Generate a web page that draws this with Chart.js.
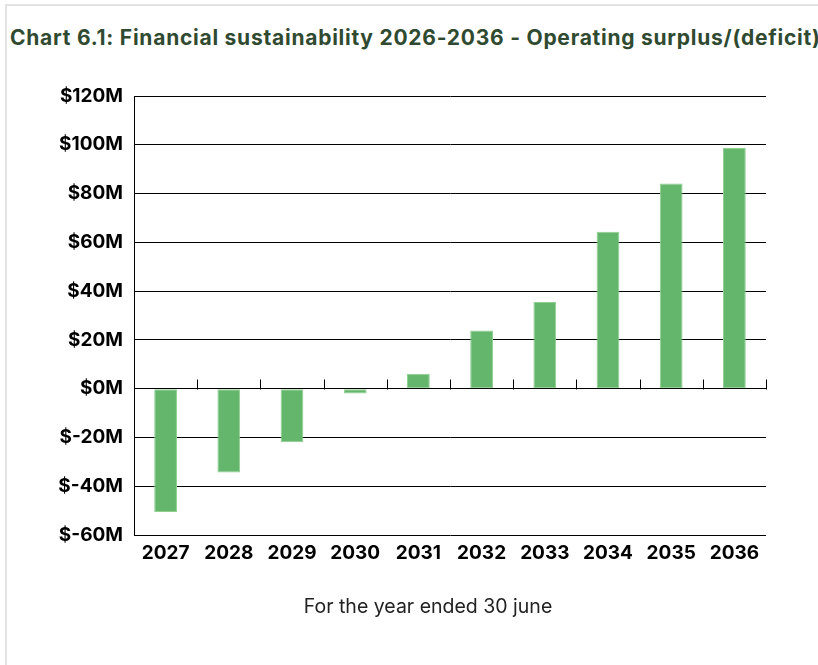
<!DOCTYPE html>
<html>
<head>
<meta charset="utf-8">
<script src="https://cdn.jsdelivr.net/npm/chart.js@4.4.1/dist/chart.umd.min.js"></script>
<style>
  body { margin: 0; background: #fff; width: 818px; height: 665px; overflow: hidden; position: relative; }
  #frame { position: absolute; left: 5px; top: 4px; width: 900px; height: 700px;
           border-left: 2px solid #e2e2e2; border-top: 2px solid #e2e2e2; }
  #title { position: absolute; left: 10px; top: 25px; margin: 0; white-space: nowrap;
           font-family: Inter, sans-serif; font-weight: 700; font-size: 21px;
           color: #2f4a30; letter-spacing: 0.75px; }
  #wrap { position: absolute; left: 0; top: 60px; width: 818px; height: 605px; }
  #caption { position: absolute; left: 0; width: 856px; top: 594px; text-align: center;
             font-family: Inter, sans-serif; font-size: 19.5px; color: #222; line-height: 24px; }
</style>
</head>
<body>
<div id="frame"></div>
<h1 id="title">Chart 6.1: Financial sustainability 2026-2036 - Operating surplus/(deficit)</h1>
<div id="wrap"><canvas id="mycanvas"></canvas></div>
<div id="caption">For the year ended 30 june</div>
<script>
// values, in $M
var years = ['2027', '2028', '2029', '2030', '2031', '2032', '2033', '2034', '2035', '2036'];
var surplus = [-50.6, -34.4, -22, -2, 6.1, 23.8, 35.5, 64.3, 84.1, 98.7];
var yMin = -60;
var yMax = 120;
var yStep = 20;

// little upward ticks on the zero line between the years
var zeroTicks = {
    id: 'zeroTicks',
    afterDatasetsDraw: function(chart){
        var x = chart.scales.x, y = chart.scales.y;
        var y0 = Math.round(y.getPixelForValue(0)) + 0.5;
        var n = x.ticks.length;
        var ctx = chart.ctx;
        ctx.save();
        ctx.strokeStyle = '#000';
        ctx.lineWidth = 1;
        ctx.beginPath();
        for(var i = 1; i <= n; i++){
            var px = Math.round(x.left + i * x.width / n) + 0.5;
            ctx.moveTo(px, y0);
            ctx.lineTo(px, y0 - 10);
        }
        ctx.stroke();
        ctx.restore();
    }
};

var chartdata = {
    labels: years,
    datasets: [{
        label: 'Operating surplus/(deficit)',
        data: surplus,
        backgroundColor: '#63b66b',
        borderColor: '#8fd08f',
        borderWidth: 1,
        borderSkipped: false,
        barPercentage: 0.36,
        categoryPercentage: 1
    }]
};

var ctx = document.getElementById('mycanvas');
var barGraph = new Chart(ctx, {
    type: 'bar',
    data: chartdata,
    plugins: [zeroTicks],
    options: {
        responsive: true,
        maintainAspectRatio: false,
        animation: false,
        layout: { padding: { left: 0, right: 52, top: 36, bottom: 0 } },
        plugins: {
            legend: { display: false },
            tooltip: { enabled: false }
        },
        scales: {
            x: {
                afterFit: function(s){ s.height = 130; },
                grid: { display: false },
                border: { display: false },
                ticks: {
                    color: '#000',
                    padding: -1,
                    font: { family: 'Inter', weight: 700, size: 19 }
                }
            },
            y: {
                min: yMin,
                max: yMax,
                afterFit: function(s){ s.width = 134; },
                grid: { color: '#000', lineWidth: 1, drawTicks: false },
                border: { display: true, color: '#000', width: 1 },
                ticks: {
                    stepSize: yStep,
                    color: '#000',
                    padding: 11,
                    font: { family: 'Inter', weight: 700, size: 19 },
                    callback: function(v){ return '$' + v + 'M'; }
                }
            }
        }
    }
});
</script>
</body>
</html>
